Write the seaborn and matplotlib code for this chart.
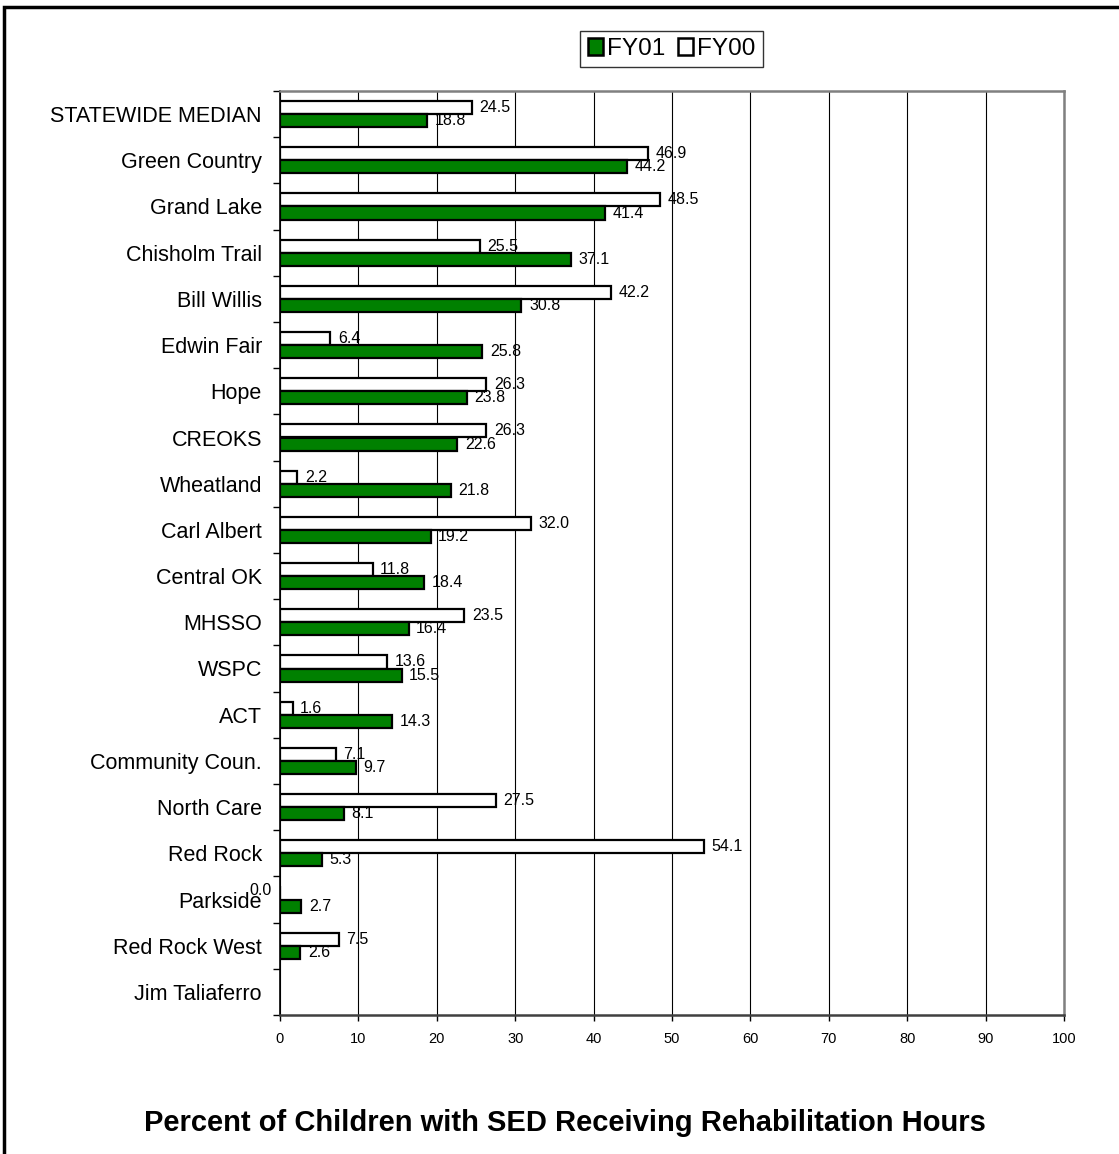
import numpy as np
import pandas as pd
import matplotlib
matplotlib.use("Agg")
import matplotlib.pyplot as plt
from matplotlib.patches import Rectangle, Patch
from matplotlib.ticker import FixedLocator
import seaborn as sns

categories = ["STATEWIDE MEDIAN", "Green Country", "Grand Lake", "Chisholm Trail",
              "Bill Willis", "Edwin Fair", "Hope", "CREOKS", "Wheatland",
              "Carl Albert", "Central OK", "MHSSO", "WSPC", "ACT",
              "Community Coun.", "North Care", "Red Rock", "Parkside",
              "Red Rock West", "Jim Taliaferro"]
fy01 = [18.8, 44.2, 41.4, 37.1, 30.8, 25.8, 23.8, 22.6, 21.8, 19.2,
        18.4, 16.4, 15.5, 14.3, 9.7, 8.1, 5.3, 2.7, 2.6, np.nan]
fy00 = [24.5, 46.9, 48.5, 25.5, 42.2, 6.4, 26.3, 26.3, 2.2, 32.0,
        11.8, 23.5, 13.6, 1.6, 7.1, 27.5, 54.1, 0.0, 7.5, np.nan]
x_ticks = [0, 10, 20, 30, 40, 50, 60, 70, 80, 90, 100]
title = "Percent of Children with SED Receiving Rehabilitation Hours"

df = pd.DataFrame({
    "Center": categories * 2,
    "Value": fy00 + fy01,
    "Year": ["FY00"] * len(categories) + ["FY01"] * len(categories),
})

sns.set_style("white")
plt.rcParams["font.family"] = ["Liberation Sans", "DejaVu Sans"]
plt.rcParams["text.color"] = "black"
plt.rcParams["xtick.color"] = "black"
plt.rcParams["ytick.color"] = "black"
plt.rcParams["xtick.labelcolor"] = "black"
plt.rcParams["ytick.labelcolor"] = "black"

fig = plt.figure(figsize=(11.19, 11.54), dpi=100)
ax = fig.add_axes([280 / 1119, 1 - 1015 / 1154, 784 / 1119, 924 / 1154])

colors = {"FY00": "white", "FY01": "#008000"}
sns.barplot(data=df.dropna(), y="Center", x="Value", hue="Year",
            order=categories, hue_order=["FY00", "FY01"], palette=colors,
            orient="h", width=0.57, edgecolor="black", linewidth=1.6,
            saturation=1, legend=False, ax=ax, zorder=3)

# value labels
for cont in ax.containers:
    for p in cont.patches:
        w = p.get_width()
        if np.isnan(w):
            continue
        yc = p.get_y() + p.get_height() / 2
        if w == 0:
            ax.annotate(f"{w:.1f}", (w, yc), xytext=(-6, 2), textcoords="offset points",
                        ha="right", va="center", fontsize=11.5, color="black",
                        annotation_clip=False, zorder=5)
        else:
            ax.annotate(f"{w:.1f}", (w, yc), xytext=(5.5, 0), textcoords="offset points",
                        ha="left", va="center", fontsize=11.5, color="black", zorder=5)

ax.set_xlim(0, 100)
ax.set_ylim(len(categories) - 0.5, -0.5)
ax.set_xticks(x_ticks)
ax.set_xticklabels([str(t) for t in x_ticks], fontsize=10.5)
ax.set_xlabel("")
ax.set_ylabel("")
ax.tick_params(axis="x", which="major", direction="out", length=4, width=1,
               color="black", pad=8, bottom=True, labelcolor="black")
ax.tick_params(axis="y", which="major", length=0, pad=13, labelsize=15.5, labelcolor="black")
ax.yaxis.set_minor_locator(FixedLocator(np.arange(-0.5, len(categories), 1.0)))
ax.tick_params(axis="y", which="minor", direction="out", length=5, width=1,
               color="black", left=True)

ax.grid(axis="x", color="black", linewidth=0.8, zorder=0)
ax.grid(axis="y", visible=False)
ax.set_axisbelow(True)

for side in ["top", "right"]:
    ax.spines[side].set_visible(True)
    ax.spines[side].set_color("#808080")
    ax.spines[side].set_linewidth(1.8)
ax.spines["left"].set_color("black")
ax.spines["left"].set_linewidth(1.2)
ax.spines["bottom"].set_color("#404040")
ax.spines["bottom"].set_linewidth(1.8)

handles = [Patch(facecolor="#008000", edgecolor="black", linewidth=1.8, label="FY01"),
           Patch(facecolor="white", edgecolor="black", linewidth=1.8, label="FY00")]
leg = fig.legend(handles=handles, loc="center", bbox_to_anchor=(671.5 / 1119, 1 - 49 / 1154),
                 ncol=2, fontsize=17.5, frameon=True, fancybox=False, shadow=False,
                 handlelength=0.65, handleheight=0.65, handletextpad=0.15,
                 columnspacing=0.5, borderpad=0.3, borderaxespad=0)
leg.get_frame().set_edgecolor("black")
leg.get_frame().set_linewidth(1.0)
for t in leg.get_texts():
    t.set_color("black")

fig.text(565 / 1119, 1 - 1123 / 1154, title, ha="center", va="center",
         fontsize=21, fontweight="bold", color="black")

border = Rectangle((4 / 1119, -0.1), 2.0, 1.1 - 7 / 1154, transform=fig.transFigure,
                   fill=False, edgecolor="black", linewidth=2.5, clip_on=False)
fig.patches.append(border)

fig.savefig("out.png", dpi=100)
